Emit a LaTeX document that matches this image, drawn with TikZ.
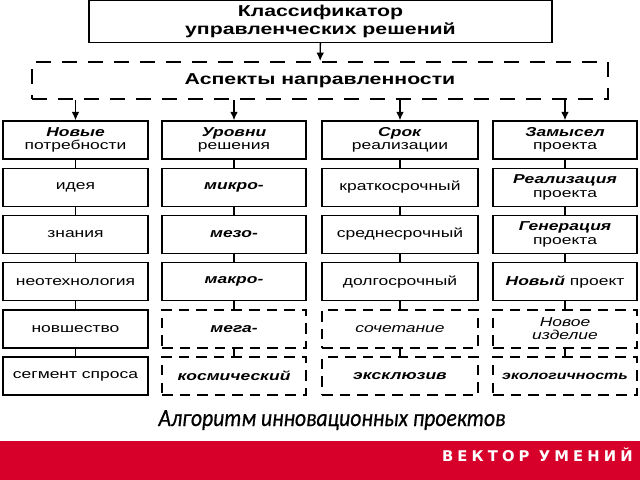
\documentclass[tikz,border=0pt]{standalone}
\usepackage{fontspec}
\setmainfont{Liberation Sans}[FakeStretch=1.35]
\newfontfamily\capfont{Carlito}[FakeStretch=0.88, FakeBold=0.6]
\newfontfamily\bandfont{DejaVu Sans}[LetterSpace=28]
\usetikzlibrary{positioning,arrows.meta}
\definecolor{bandred}{RGB}{214,0,42}

\begin{document}
\begin{tikzpicture}[x=0.025cm, y=-0.025cm, node distance = 1.18cm,
        box/.style = {draw, line width=1pt, minimum width=#1,
        minimum height=0.95cm, inner sep=1pt, align=center,
        font=\fontsize{9.2}{9.6}\selectfont},
        dbox/.style = {box=#1, dash pattern=on 7.5pt off 5pt, line width=1.4pt},
        head/.style = {draw, line width=1pt, minimum width=#1,
        minimum height=0.925cm, align=center,
        font=\fontsize{11.2}{12.8}\bfseries\selectfont},
        arr/.style = {-{Latex[length=6pt,width=5.5pt]}, line width=1pt}]
        \useasboundingbox (0,0) rectangle (640,480);

        \node [head=11.575cm] (klass) at (320.5,21.5)
        {Классификатор\\управленческих решений};
        \node [head=14.4cm, dash pattern=on 10.5pt off 8pt, line width=1.4pt]
        (aspect) at (320,80.5) {Аспекты направленности};

        \node [box=3.625cm] (need) at (75.5,140)
        {\textbf{\textit{Новые}}\\потребности};
        \node [box=3.625cm, below of = need] (idea) {идея};
        \node [box=3.625cm, below of = idea] (know) {знания};
        \node [box=3.625cm, below of = know] (neo) {неотехнология};
        \node [box=3.625cm, below of = neo] (nov) {новшество};
        \node [box=3.625cm, below of = nov] (seg) {сегмент спроса};

        \node [box=3.6cm] (level) at (234,140)
        {\textbf{\textit{Уровни}}\\решения};
        \node [box=3.6cm, below of = level, font=\fontsize{9.2}{9.6}\bfseries\itshape\selectfont]
        (micro) {микро-};
        \node [box=3.6cm, below of = micro, font=\fontsize{9.2}{9.6}\bfseries\itshape\selectfont]
        (meso) {мезо-};
        \node [box=3.6cm, below of = meso, font=\fontsize{9.2}{9.6}\bfseries\itshape\selectfont]
        (macro) {макро-};
        \node [dbox=3.6cm, below of = macro, font=\fontsize{9.2}{9.6}\bfseries\itshape\selectfont]
        (mega) {мега-};
        \node [dbox=3.6cm, below of = mega, font=\fontsize{9.2}{9.6}\bfseries\itshape\selectfont]
        (cosm) {космический};

        \node [box=3.9cm] (term) at (400,140)
        {\textbf{\textit{Срок}}\\реализации};
        \node [box=3.9cm, below of = term] (short) {краткосрочный};
        \node [box=3.9cm, below of = short] (mid) {среднесрочный};
        \node [box=3.9cm, below of = mid] (long) {долгосрочный};
        \node [dbox=3.9cm, below of = long, font=\fontsize{9.2}{9.6}\itshape\selectfont]
        (comb) {сочетание};
        \node [dbox=3.9cm, below of = comb, font=\fontsize{9.2}{9.6}\bfseries\itshape\selectfont]
        (excl) {эксклюзив};

        \node [box=3.6cm] (plan) at (565,140)
        {\textbf{\textit{Замысел}}\\проекта};
        \node [box=3.6cm, below of = plan] (real)
        {\textbf{\textit{Реализация}}\\проекта};
        \node [box=3.6cm, below of = real] (gen)
        {\textbf{\textit{Генерация}}\\проекта};
        \node [box=3.6cm, below of = gen] (newp)
        {\textbf{\textit{Новый}} проект};
        \node [dbox=3.6cm, below of = newp, font=\fontsize{9.2}{9.6}\itshape\selectfont]
        (item) {Новое\\изделие};
        \node [dbox=3.6cm, below of = item, font=\fontsize{8.4}{9}\bfseries\itshape\selectfont]
        (eco) {экологичность};

        \draw [arr] (klass) -- (aspect);
        \draw [arr] (aspect.south -| need) -- (need);
        \draw [arr] (aspect.south -| level) -- (level);
        \draw [arr] (aspect.south -| term) -- (term);
        \draw [arr] (aspect.south -| plan) -- (plan);

        \draw [line width=1pt] (need) -- (idea) (idea) -- (know) (know) -- (neo)
        (neo) -- (nov) (nov) -- (seg);
        \draw [line width=1pt] (level) -- (micro) (micro) -- (meso)
        (meso) -- (macro) (macro) -- (mega) (mega) -- (cosm);
        \draw [line width=1pt] (term) -- (short) (short) -- (mid)
        (mid) -- (long) (long) -- (comb) (comb) -- (excl);
        \draw [line width=1pt] (plan) -- (real) (real) -- (gen)
        (gen) -- (newp) (newp) -- (item) (item) -- (eco);

        \node [anchor=base, font=\capfont\fontsize{17.5}{20}\itshape\selectfont]
        (algo) at (332,426) {Алгоритм инновационных проектов};

        \fill [bandred] (0,441) rectangle (640,480);
        \node [anchor=base east, inner sep=0pt, text=white,
        font=\bandfont\fontsize{10.5}{12}\bfseries\selectfont]
        (vector) at (633,461) {ВЕКТОР УМЕНИЙ};
\end{tikzpicture}
\end{document}
